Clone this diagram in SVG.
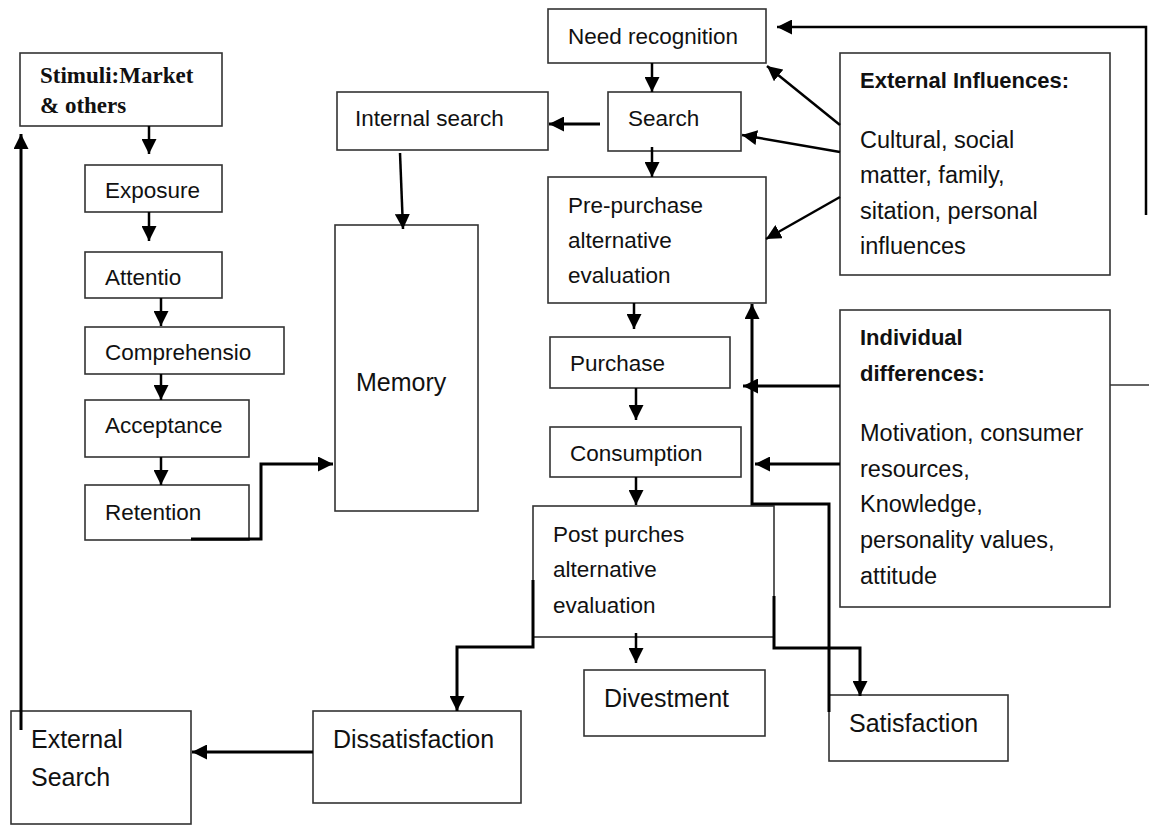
<svg xmlns="http://www.w3.org/2000/svg" width="1149" height="825" viewBox="0 0 1149 825">
<style>
  .box { fill: #fff; stroke: #333; stroke-width: 1.6; }
  .t { font-family: "Liberation Sans", Arial, sans-serif; font-size: 22.5px; fill: #111; }
  .ti { font-family: "Liberation Sans", Arial, sans-serif; font-size: 23.5px; fill: #111; }
  .tl { font-family: "Liberation Sans", Arial, sans-serif; font-size: 25px; fill: #111; }
  .tb { font-family: "Liberation Sans", Arial, sans-serif; font-size: 22px; font-weight: bold; fill: #111; }
  .ts { font-family: "Liberation Serif", "Times New Roman", serif; font-size: 23px; font-weight: bold; fill: #111; }
  .ca { fill: none; stroke: #000; stroke-width: 3; marker-end: url(#ah); }
  .cd { fill: none; stroke: #000; stroke-width: 2.5; marker-end: url(#ah); }
</style>
<defs>
  <marker id="ah" viewBox="0 0 12 12" refX="12" refY="6" markerWidth="15" markerHeight="15" markerUnits="userSpaceOnUse" orient="auto">
    <path d="M0,0 L12,6 L0,12 z" fill="#000"/>
  </marker>
</defs>
<rect width="1149" height="825" fill="#fff"/>

<g id="stimuli"><rect class="box" x="20" y="53" width="202" height="73"/><text class="ts" x="40" y="83">Stimuli:Market</text><text class="ts" x="40" y="113">&amp; others</text></g>
<g id="exposure"><rect class="box" x="85" y="165" width="137" height="47"/><text class="t" x="105" y="198">Exposure</text></g>
<g id="attentio"><rect class="box" x="85" y="252" width="137" height="46"/><text class="t" x="105" y="285">Attentio</text></g>
<g id="comprehensio"><rect class="box" x="85" y="327" width="199" height="47"/><text class="t" x="105" y="360">Comprehensio</text></g>
<g id="acceptance"><rect class="box" x="85" y="400" width="164" height="57"/><text class="t" x="105" y="433">Acceptance</text></g>
<g id="retention"><rect class="box" x="85" y="485" width="164" height="55"/><text class="t" x="105" y="520">Retention</text></g>
<g id="internal-search"><rect class="box" x="337" y="92" width="211" height="58"/><text class="t" x="355" y="126">Internal search</text></g>
<g id="memory"><rect class="box" x="335" y="225" width="143" height="286"/><text class="tl" x="356" y="391">Memory</text></g>
<g id="need-recognition"><rect class="box" x="548" y="9" width="218" height="54"/><text class="t" x="568" y="44">Need recognition</text></g>
<g id="search"><rect class="box" x="608" y="92" width="133" height="59"/><text class="t" x="628" y="126">Search</text></g>
<g id="pre-purchase"><rect class="box" x="548" y="177" width="218" height="126"/><text class="t" x="568" y="213">Pre-purchase</text><text class="t" x="568" y="248">alternative</text><text class="t" x="568" y="283">evaluation</text></g>
<g id="external-influences"><rect class="box" x="840" y="53" width="270" height="222"/><text class="tb" x="860" y="88">External Influences:</text><text class="ti" x="860" y="148">Cultural, social</text><text class="ti" x="860" y="183">matter, family,</text><text class="ti" x="860" y="219">sitation, personal</text><text class="ti" x="860" y="254">influences</text></g>
<g id="purchase"><rect class="box" x="550" y="337" width="180" height="51"/><text class="t" x="570" y="371">Purchase</text></g>
<g id="consumption"><rect class="box" x="550" y="427" width="191" height="50"/><text class="t" x="570" y="461">Consumption</text></g>
<g id="individual-differences"><rect class="box" x="840" y="310" width="270" height="297"/><text class="tb" x="860" y="345">Individual</text><text class="tb" x="860" y="381">differences:</text><text class="ti" x="860" y="441">Motivation, consumer</text><text class="ti" x="860" y="477">resources,</text><text class="ti" x="860" y="512">Knowledge,</text><text class="ti" x="860" y="548">personality values,</text><text class="ti" x="860" y="584">attitude</text></g>
<g id="post-purchase"><rect class="box" x="533" y="506" width="241" height="131"/><text class="t" x="553" y="542">Post purches</text><text class="t" x="553" y="577">alternative</text><text class="t" x="553" y="613">evaluation</text></g>
<g id="divestment"><rect class="box" x="584" y="670" width="181" height="66"/><text class="tl" x="604" y="707">Divestment</text></g>
<g id="satisfaction"><rect class="box" x="829" y="695" width="179" height="66"/><text class="tl" x="849" y="732">Satisfaction</text></g>
<g id="dissatisfaction"><rect class="box" x="313" y="711" width="208" height="92"/><text class="tl" x="333" y="748">Dissatisfaction</text></g>
<g id="external-search"><rect class="box" x="11" y="711" width="180" height="113"/><text class="tl" x="31" y="748">External</text><text class="tl" x="31" y="786">Search</text></g>

<g id="connectors">
  <path class="cd" d="M149,126 V154"/>
  <path class="cd" d="M149,212 V241"/>
  <path class="cd" d="M161,298 V326"/>
  <path class="cd" d="M161,374 V400"/>
  <path class="cd" d="M161,457 V485"/>
  <path class="ca" d="M191,539 H261 V464 H333"/>
  <path class="cd" d="M400,153 L403,229"/>
  <path class="ca" d="M600,124 H549"/>
  <path class="cd" d="M652,63 V92"/>
  <path class="cd" d="M652,147 V177"/>
  <path class="cd" d="M840,125 L767,66"/>
  <path class="cd" d="M840,152 L742,135"/>
  <path class="cd" d="M840,197 L766,239"/>
  <path class="cd" d="M1146,215 V27 H777"/>
  <path class="cd" d="M634,303 V329"/>
  <path class="cd" d="M636,388 V420"/>
  <path class="cd" d="M636,477 V505"/>
  <path class="ca" d="M840,386 H743"/>
  <path class="ca" d="M840,464 H755"/>
  <path class="ca" d="M829,712 V504 H752 V304"/>
  <path class="ca" d="M774,596 V648 H860 V696"/>
  <path class="cd" d="M636,633 V663"/>
  <path class="ca" d="M533,580 V647 H457 V711"/>
  <path class="ca" d="M313,752 H192"/>
  <path class="ca" d="M21,730 V134"/>
  <path fill="none" stroke="#333" stroke-width="1.5" d="M1110,385 H1149"/>
</g>
</svg>
